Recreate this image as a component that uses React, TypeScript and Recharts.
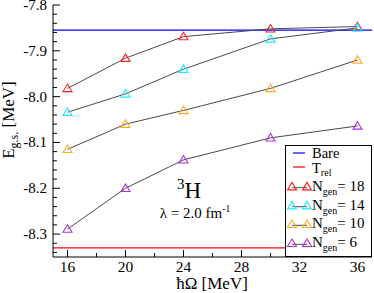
import React from 'react';
import { LineChart, Line, XAxis, YAxis, ReferenceLine, Legend } from 'recharts';

const hwValues = [16, 20, 24, 30, 36];
const nGen18 = [-7.982, -7.916, -7.869, -7.852, -7.847];
const nGen14 = [-8.034, -7.994, -7.94, -7.874, -7.85];
const nGen10 = [-8.115, -8.06, -8.03, -7.982, -7.92];
const nGen6 = [-8.289, -8.2, -8.138, -8.09, -8.064];
const bareEnergy = -7.855;
const trelEnergy = -8.33;

const seriesNames = ['18', '14', '10', '6'];
const seriesColors = ['#ff2020', '#20e8ff', '#ffaa20', '#b030e0'];
const seriesValues = [nGen18, nGen14, nGen10, nGen6];

const xDomain = [15, 37];
const xTicks = [16, 18, 20, 22, 24, 26, 28, 30, 32, 34, 36];
const xMajor = [16, 20, 24, 28, 32, 36];
const yDomain = [-8.35, -7.8];
const yTicks = [-8.34, -8.32, -8.3, -8.28, -8.26, -8.24, -8.22, -8.2, -8.18, -8.16, -8.14, -8.12, -8.1, -8.08, -8.06, -8.04, -8.02, -8.0, -7.98, -7.96, -7.94, -7.92, -7.9, -7.88, -7.86, -7.84, -7.82, -7.8];
const yMajor = [-8.3, -8.2, -8.1, -8.0, -7.9, -7.8];

const FONT = 'Liberation Serif, Times New Roman, serif';
const TXT = { fontFamily: FONT };
const LINE_GRAY = '#4a4a4a';

const isXMajor = (v: number) => xMajor.some((m) => Math.abs(m - v) < 1e-6);
const isYMajor = (v: number) => yMajor.some((m) => Math.abs(m - v) < 1e-6);

const buildData = (vals: number[]) => hwValues.map((x, i) => ({ x, y: vals[i] }));

const Triangle = ({ cx, cy, color }: { cx: number; cy: number; color: string }) => (
  <path
    d={`M${cx},${cy - 4.3} L${cx + 4.5},${cy + 3.2} L${cx - 4.5},${cy + 3.2} Z`}
    fill="none"
    stroke={color}
    strokeWidth={1.1}
  />
);

const XTickBottom = (props: any) => {
  const { x, y, payload } = props;
  const major = isXMajor(payload.value);
  return (
    <g>
      <line x1={x} x2={x} y1={y} y2={y - (major ? 7 : 4)} stroke="#000" strokeWidth={1} />
      {major && (
        <text x={x} y={y + 14.5} textAnchor="middle" fontSize={15.5} style={TXT} fill="#000">
          {payload.value}
        </text>
      )}
    </g>
  );
};

const XTickTop = (props: any) => {
  const { x, y, payload } = props;
  const major = isXMajor(payload.value);
  return <line x1={x} x2={x} y1={y} y2={y + (major ? 7 : 4)} stroke="#000" strokeWidth={1} />;
};

const YTickLeft = (props: any) => {
  const { x, y, payload } = props;
  const major = isYMajor(payload.value);
  return (
    <g>
      <line x1={x} x2={x + (major ? 7 : 4)} y1={y} y2={y} stroke="#000" strokeWidth={1} />
      {major && (
        <text x={x - 6} y={y + 5} textAnchor="end" fontSize={15} style={TXT} fill="#000">
          {payload.value.toFixed(1)}
        </text>
      )}
    </g>
  );
};

const YTickRight = (props: any) => {
  const { x, y, payload } = props;
  const major = isYMajor(payload.value);
  return <line x1={x} x2={x - (major ? 7 : 4)} y1={y} y2={y} stroke="#000" strokeWidth={1} />;
};

const LegendBox = () => {
  const rows = [41.7, 60.7, 79.3, 98.3];
  return (
    <svg width={87} height={112} style={{ display: 'block' }}>
      <rect x={0.5} y={0.5} width={86} height={111} fill="#fff" stroke="#000" strokeWidth={1} />
      <line x1={8} x2={20} y1={8} y2={8} stroke="#0000ff" strokeWidth={1.2} />
      <text x={27} y={13} fontSize={14.5} style={TXT} fill="#000">Bare</text>
      <line x1={8} x2={20} y1={22} y2={22} stroke="#ff0000" strokeWidth={1.2} />
      <text x={27} y={27.5} fontSize={14.5} style={TXT} fill="#000">
        T<tspan fontSize={10} dy={3.5}>rel</tspan>
      </text>
      {seriesNames.map((n, i) => (
        <g key={n}>
          <line x1={7} x2={22} y1={rows[i] + 1} y2={rows[i] + 1} stroke={LINE_GRAY} strokeWidth={1} />
          <Triangle cx={7} cy={rows[i]} color={seriesColors[i]} />
          <Triangle cx={22} cy={rows[i]} color={seriesColors[i]} />
          <text x={27} y={rows[i] + 4} fontSize={15} style={TXT} fill="#000">
            N<tspan fontSize={10} dy={4}>gen</tspan>
            <tspan dy={-4}>= {n}</tspan>
          </text>
        </g>
      ))}
    </svg>
  );
};

export default function App() {
  return (
    <div style={{ position: 'absolute', left: 0, top: 0, width: 374, height: 293, background: '#fff' }}>
      <LineChart width={374} height={293} margin={{ top: 5, right: 2, left: 0, bottom: 0 }}>
        <XAxis
          dataKey="x"
          type="number"
          domain={xDomain}
          ticks={xTicks}
          interval={0}
          height={36}
          tickSize={0}
          tickMargin={0}
          tickLine={false}
          tick={<XTickBottom />}
          axisLine={{ stroke: '#000', strokeWidth: 1 }}
          allowDuplicatedCategory={false}
        />
        <XAxis
          xAxisId="top"
          orientation="top"
          type="number"
          domain={xDomain}
          ticks={xTicks}
          interval={0}
          height={0}
          tickSize={0}
          tickMargin={0}
          tickLine={false}
          tick={<XTickTop />}
          axisLine={{ stroke: '#000', strokeWidth: 1 }}
        />
        <YAxis
          type="number"
          domain={yDomain}
          ticks={yTicks}
          interval={0}
          width={53}
          tickSize={0}
          tickMargin={0}
          tickLine={false}
          tick={<YTickLeft />}
          axisLine={{ stroke: '#000', strokeWidth: 1 }}
        />
        <YAxis
          yAxisId="right"
          orientation="right"
          type="number"
          domain={yDomain}
          ticks={yTicks}
          interval={0}
          width={0}
          tickSize={0}
          tickMargin={0}
          tickLine={false}
          tick={<YTickRight />}
          axisLine={{ stroke: '#000', strokeWidth: 1 }}
        />
        <ReferenceLine y={bareEnergy} stroke="#0000ff" strokeWidth={1.3} ifOverflow="extendDomain" />
        <ReferenceLine y={trelEnergy} stroke="#ff0000" strokeWidth={1.3} ifOverflow="extendDomain" />
        {seriesValues.map((vals, i) => (
          <Line
            key={seriesNames[i]}
            data={buildData(vals)}
            dataKey="y"
            stroke={LINE_GRAY}
            strokeWidth={1}
            isAnimationActive={false}
            dot={(p: any) => <Triangle key={`${i}-${p.index}`} cx={p.cx} cy={p.cy} color={seriesColors[i]} />}
            activeDot={false}
          />
        ))}
        <Legend
          layout="horizontal"
          verticalAlign="middle"
          align="center"
          wrapperStyle={{ position: 'absolute', left: 285, top: 145, width: 87, height: 112 }}
          content={() => <LegendBox />}
        />
        <g>
          <text x={189} y={198} textAnchor="middle" fontSize={23} style={TXT} fill="#000">
            <tspan fontSize={15} dy={-9}>3</tspan>
            <tspan dy={9}>H</tspan>
          </text>
          <text x={195} y={218} textAnchor="middle" fontSize={15} style={TXT} fill="#000">
            λ = 2.0 fm<tspan fontSize={9.5} dy={-6}>-1</tspan>
          </text>
          <text x={212} y={289} textAnchor="middle" fontSize={17} style={TXT} fill="#000">
            ħΩ [MeV]
          </text>
          <text
            x={13.5}
            y={120}
            textAnchor="middle"
            fontSize={17}
            style={TXT}
            fill="#000"
            transform="rotate(-90, 13.5, 120)"
          >
            E<tspan fontSize={12} dy={4}>g.s.</tspan>
            <tspan dy={-4}> [MeV]</tspan>
          </text>
        </g>
      </LineChart>
    </div>
  );
}
